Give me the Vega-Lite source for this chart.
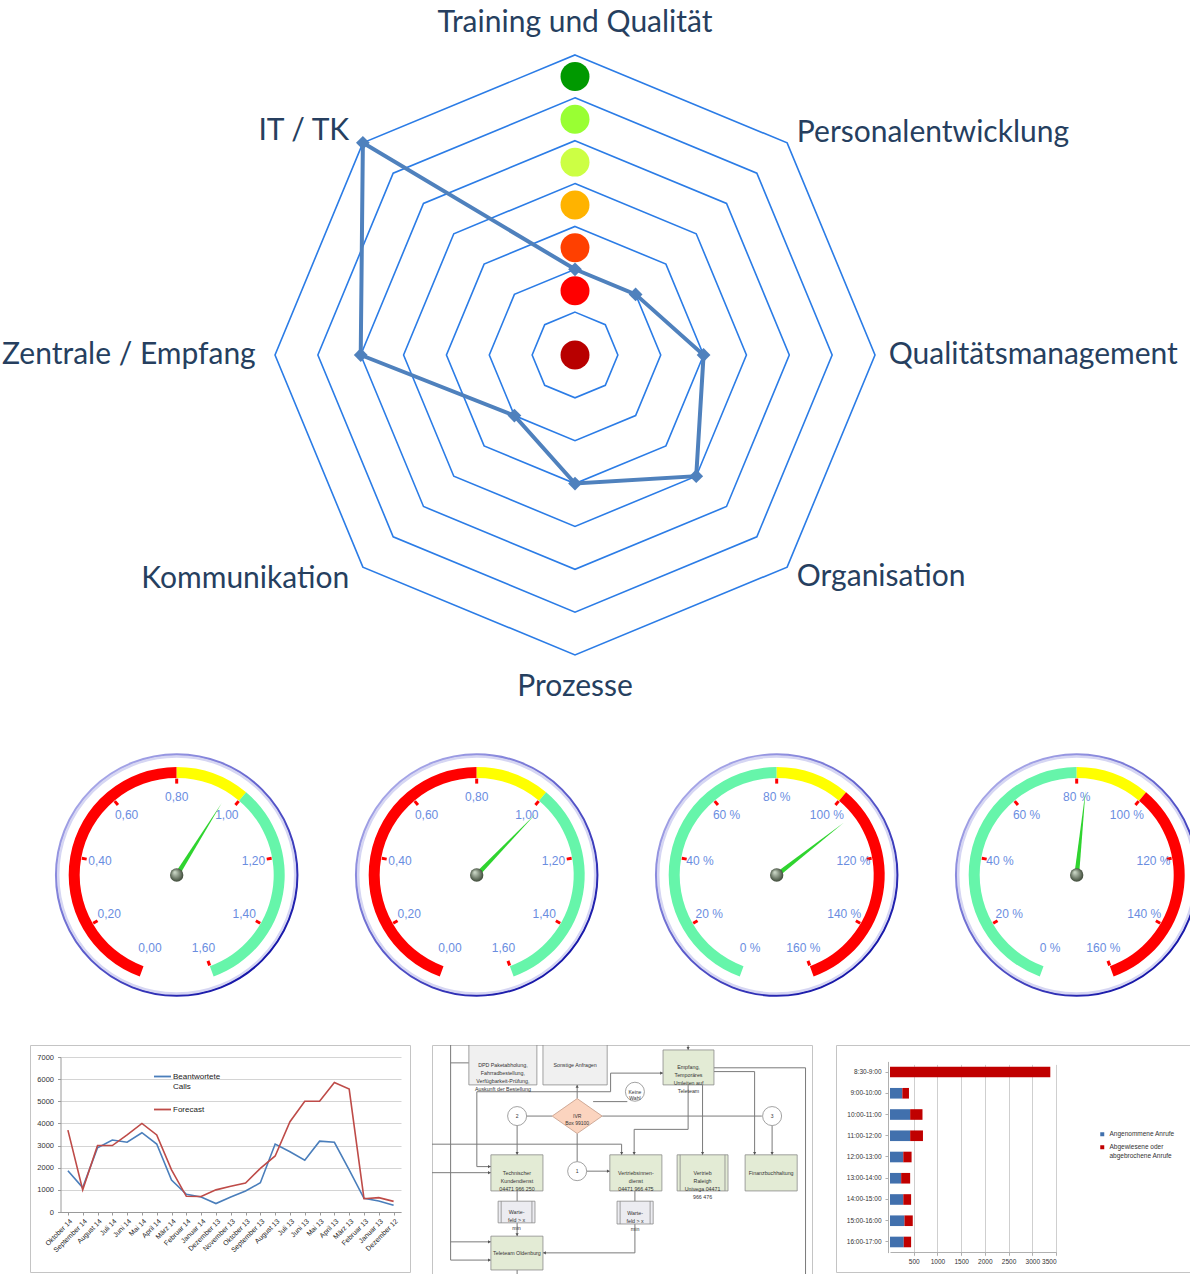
{
"$schema": "https://vega.github.io/schema/vega-lite/v6.json",
"background": "#ffffff",
"padding": 0,
"spacing": 0,
"bounds": "flush",
"resolve": {"scale": {"color": "independent", "fill": "independent", "shape": "independent", "angle": "independent"}, "legend": {"color": "independent", "fill": "independent", "shape": "independent"}},
"config": {"view": {"stroke": null}, "font": "Liberation Sans"},
"datasets": {
"gitter": [
{"i":0,"stufe":[1,2,3,4,5,6,7]},{"i":1,"stufe":[1,2,3,4,5,6,7]},{"i":2,"stufe":[1,2,3,4,5,6,7]},{"i":3,"stufe":[1,2,3,4,5,6,7]},
{"i":4,"stufe":[1,2,3,4,5,6,7]},{"i":5,"stufe":[1,2,3,4,5,6,7]},{"i":6,"stufe":[1,2,3,4,5,6,7]},{"i":7,"stufe":[1,2,3,4,5,6,7]}
],
"radar": [
{"i":0,"achse":"Training und Qualität","wert":2},
{"i":1,"achse":"Personalentwicklung","wert":2},
{"i":2,"achse":"Qualitätsmanagement","wert":3},
{"i":3,"achse":"Organisation","wert":4},
{"i":4,"achse":"Prozesse","wert":3},
{"i":5,"achse":"Kommunikation","wert":2},
{"i":6,"achse":"Zentrale / Empfang","wert":5},
{"i":7,"achse":"IT / TK","wert":7}
],
"ampel": [
{"stufe":"1","pos":0},{"stufe":"2","pos":1.5},{"stufe":"3","pos":2.5},{"stufe":"4","pos":3.5},
{"stufe":"5","pos":4.5},{"stufe":"6","pos":5.5},{"stufe":"7","pos":6.5}
],
"tacho": [
{"g":1,"kind":"band","von":0,"bis":80,"zone":"rot"},{"g":1,"kind":"band","von":80,"bis":100,"zone":"gelb"},{"g":1,"kind":"band","von":100,"bis":160,"zone":"grün"},
{"g":2,"kind":"band","von":0,"bis":80,"zone":"rot"},{"g":2,"kind":"band","von":80,"bis":100,"zone":"gelb"},{"g":2,"kind":"band","von":100,"bis":160,"zone":"grün"},
{"g":3,"kind":"band","von":0,"bis":80,"zone":"grün"},{"g":3,"kind":"band","von":80,"bis":100,"zone":"gelb"},{"g":3,"kind":"band","von":100,"bis":160,"zone":"rot"},
{"g":4,"kind":"band","von":0,"bis":80,"zone":"grün"},{"g":4,"kind":"band","von":80,"bis":100,"zone":"gelb"},{"g":4,"kind":"band","von":100,"bis":160,"zone":"rot"},
{"g":1,"kind":"zeiger","wert":96},{"g":2,"kind":"zeiger","wert":102},{"g":3,"kind":"zeiger","wert":106},{"g":4,"kind":"zeiger","wert":83},
{"g":1,"kind":"skala","v":[0,20,40,60,80,100,120,140,160]},{"g":2,"kind":"skala","v":[0,20,40,60,80,100,120,140,160]},
{"g":3,"kind":"skala","v":[0,20,40,60,80,100,120,140,160]},{"g":4,"kind":"skala","v":[0,20,40,60,80,100,120,140,160]}
],
"anrufe": [
{"monat":"Oktober 14","reihe":"Beantwortete Calls","anzahl":1860},
{"monat":"September 14","reihe":"Beantwortete Calls","anzahl":1100},
{"monat":"August 14","reihe":"Beantwortete Calls","anzahl":2900},
{"monat":"Juli 14","reihe":"Beantwortete Calls","anzahl":3250},
{"monat":"Juni 14","reihe":"Beantwortete Calls","anzahl":3150},
{"monat":"Mai 14","reihe":"Beantwortete Calls","anzahl":3580},
{"monat":"April 14","reihe":"Beantwortete Calls","anzahl":3070},
{"monat":"März 14","reihe":"Beantwortete Calls","anzahl":1440},
{"monat":"Februar 14","reihe":"Beantwortete Calls","anzahl":800},
{"monat":"Januar 14","reihe":"Beantwortete Calls","anzahl":680},
{"monat":"Dezember 13","reihe":"Beantwortete Calls","anzahl":380},
{"monat":"November 13","reihe":"Beantwortete Calls","anzahl":680},
{"monat":"Oktober 13","reihe":"Beantwortete Calls","anzahl":950},
{"monat":"September 13","reihe":"Beantwortete Calls","anzahl":1320},
{"monat":"August 13","reihe":"Beantwortete Calls","anzahl":3070},
{"monat":"Juli 13","reihe":"Beantwortete Calls","anzahl":2720},
{"monat":"Juni 13","reihe":"Beantwortete Calls","anzahl":2340},
{"monat":"Mai 13","reihe":"Beantwortete Calls","anzahl":3200},
{"monat":"April 13","reihe":"Beantwortete Calls","anzahl":3150},
{"monat":"März 13","reihe":"Beantwortete Calls","anzahl":1900},
{"monat":"Februar 13","reihe":"Beantwortete Calls","anzahl":620},
{"monat":"Januar 13","reihe":"Beantwortete Calls","anzahl":500},
{"monat":"Dezember 12","reihe":"Beantwortete Calls","anzahl":300},
{"monat":"Oktober 14","reihe":"Forecast","anzahl":3700},
{"monat":"September 14","reihe":"Forecast","anzahl":1000},
{"monat":"August 14","reihe":"Forecast","anzahl":3000},
{"monat":"Juli 14","reihe":"Forecast","anzahl":3000},
{"monat":"Juni 14","reihe":"Forecast","anzahl":3480},
{"monat":"Mai 14","reihe":"Forecast","anzahl":4000},
{"monat":"April 14","reihe":"Forecast","anzahl":3480},
{"monat":"März 14","reihe":"Forecast","anzahl":1900},
{"monat":"Februar 14","reihe":"Forecast","anzahl":710},
{"monat":"Januar 14","reihe":"Forecast","anzahl":700},
{"monat":"Dezember 13","reihe":"Forecast","anzahl":1000},
{"monat":"November 13","reihe":"Forecast","anzahl":1160},
{"monat":"Oktober 13","reihe":"Forecast","anzahl":1310},
{"monat":"September 13","reihe":"Forecast","anzahl":1970},
{"monat":"August 13","reihe":"Forecast","anzahl":2530},
{"monat":"Juli 13","reihe":"Forecast","anzahl":4080},
{"monat":"Juni 13","reihe":"Forecast","anzahl":5000},
{"monat":"Mai 13","reihe":"Forecast","anzahl":5000},
{"monat":"April 13","reihe":"Forecast","anzahl":5850},
{"monat":"März 13","reihe":"Forecast","anzahl":5550},
{"monat":"Februar 13","reihe":"Forecast","anzahl":600},
{"monat":"Januar 13","reihe":"Forecast","anzahl":650},
{"monat":"Dezember 12","reihe":"Forecast","anzahl":480}
],
"kaesten": [
{"id":"dpd","typ":"info","x1":9.7,"x2":27.6,"y1":0,"y2":10.5,"text":"DPD Paketabholung,\nFahrradbestellung,\nVerfügbarkeit-Prüfung,\nAuskunft der Bestellung"},
{"id":"sonst","typ":"info","x1":29.2,"x2":46.1,"y1":0,"y2":10.5,"text":"Sonstige Anfragen"},
{"id":"tech","typ":"prozess","x1":15.5,"x2":29.2,"y1":28.9,"y2":38.4,"text":"Technischer\nKundendienst\n04471 966 250"},
{"id":"warte1","typ":"warte","x1":17.4,"x2":27.1,"y1":41.1,"y2":46.8,"text":"Warte-\nfeld > x\nmin"},
{"id":"tele","typ":"prozess","x1":15.5,"x2":29.2,"y1":50.3,"y2":59.2,"text":"Teleteam Oldenburg"},
{"id":"vid","typ":"prozess","x1":46.8,"x2":60.5,"y1":28.9,"y2":38.4,"text":"Vertriebsinnen-\ndienst\n04471 966 475"},
{"id":"warte2","typ":"warte","x1":48.7,"x2":58.2,"y1":41.1,"y2":47.1,"text":"Warte-\nfeld > x\nmin"},
{"id":"empf","typ":"prozess","x1":60.8,"x2":74.2,"y1":1.3,"y2":10.5,"text":"Empfang,\nTemporäres\nUmleiten auf\nTeleteam"},
{"id":"raleigh","typ":"unterprozess","x1":64.5,"x2":77.9,"y1":28.9,"y2":38.4,"text":"Vertrieb\nRaleigh\nUnivega 04471\n966 476"},
{"id":"fibu","typ":"prozess","x1":82.4,"x2":96.1,"y1":28.9,"y2":38.4,"text":"Finanzbuchhaltung"}
],
"linien": [
{"x1":4.9,"y1":0,"x2":4.9,"y2":56.6},
{"x1":4.9,"y1":4.7,"x2":9.7,"y2":4.7},
{"x1":4.9,"y1":56.6,"x2":15.5,"y2":56.6},
{"x1":4.9,"y1":51.8,"x2":15.5,"y2":51.8},
{"x1":0,"y1":26.1,"x2":49.9,"y2":26.1},
{"x1":49.9,"y1":26.1,"x2":49.9,"y2":28.9},
{"x1":0,"y1":33.6,"x2":15.5,"y2":33.6},
{"x1":11.8,"y1":12.3,"x2":11.8,"y2":32.0},
{"x1":11.8,"y1":32.0,"x2":15.5,"y2":32.0},
{"x1":11.8,"y1":12.3,"x2":47.0,"y2":12.3},
{"x1":38.2,"y1":14.1,"x2":38.2,"y2":10.5},
{"x1":24.9,"y1":18.7,"x2":31.6,"y2":18.7},
{"x1":44.8,"y1":18.7,"x2":86.8,"y2":18.7},
{"x1":22.4,"y1":21.2,"x2":22.4,"y2":28.9},
{"x1":38.2,"y1":23.3,"x2":38.2,"y2":30.7},
{"x1":40.7,"y1":33.2,"x2":46.8,"y2":33.2},
{"x1":22.4,"y1":38.4,"x2":22.4,"y2":41.1},
{"x1":22.4,"y1":46.8,"x2":22.4,"y2":50.3},
{"x1":29.2,"y1":54.7,"x2":53.4,"y2":54.7},
{"x1":53.4,"y1":47.1,"x2":53.4,"y2":54.7},
{"x1":53.4,"y1":38.4,"x2":53.4,"y2":41.1},
{"x1":42.4,"y1":14.9,"x2":51.4,"y2":14.9},
{"x1":47.0,"y1":7.4,"x2":60.8,"y2":7.4},
{"x1":47.0,"y1":7.4,"x2":47.0,"y2":12.3},
{"x1":67.4,"y1":10.5,"x2":67.4,"y2":22.2},
{"x1":53.2,"y1":22.2,"x2":67.4,"y2":22.2},
{"x1":53.2,"y1":22.2,"x2":53.2,"y2":28.9},
{"x1":71.2,"y1":10.5,"x2":71.2,"y2":28.9},
{"x1":74.2,"y1":7.0,"x2":84.9,"y2":7.0},
{"x1":84.9,"y1":7.0,"x2":84.9,"y2":28.9},
{"x1":89.5,"y1":21.3,"x2":89.5,"y2":28.9},
{"x1":74.2,"y1":6.0,"x2":98.3,"y2":6.0},
{"x1":98.3,"y1":6.0,"x2":98.3,"y2":60.3},
{"x1":67.4,"y1":0,"x2":67.4,"y2":1.3},
{"x1":22.4,"y1":59.2,"x2":22.4,"y2":60.3}
],
"kreise": [
{"form":"kreis","x":22.4,"y":18.7,"text":"2"},
{"form":"kreis","x":38.2,"y":33.2,"text":"1"},
{"form":"kreis","x":53.4,"y":12.3,"text":"Keine\nWahl"},
{"form":"kreis","x":89.5,"y":18.7,"text":"3"},
{"form":"raute","x":38.2,"y":18.7,"text":"IVR\nBox 99100"}
],
"pfeile": [
{"x":15.1,"y":56.6,"richtung":"rechts"},{"x":15.1,"y":51.8,"richtung":"rechts"},{"x":49.9,"y":28.5,"richtung":"unten"},
{"x":15.1,"y":33.6,"richtung":"rechts"},{"x":15.1,"y":32.0,"richtung":"rechts"},{"x":38.2,"y":10.9,"richtung":"oben"},
{"x":22.4,"y":28.5,"richtung":"unten"},{"x":46.4,"y":33.2,"richtung":"rechts"},{"x":22.4,"y":49.9,"richtung":"unten"},
{"x":29.6,"y":54.7,"richtung":"links"},{"x":60.4,"y":7.4,"richtung":"rechts"},{"x":53.2,"y":28.5,"richtung":"unten"},
{"x":71.2,"y":28.5,"richtung":"unten"},{"x":84.9,"y":28.5,"richtung":"unten"},{"x":89.5,"y":28.5,"richtung":"unten"},
{"x":67.4,"y":0.9,"richtung":"unten"}
],
"zeiten": [
{"zeit":"8:30-9:00","art":"Angenommene Anrufe","anzahl":0},
{"zeit":"8:30-9:00","art":"Abgewiesene oder abgebrochene Anrufe","anzahl":3380},
{"zeit":"9:00-10:00","art":"Angenommene Anrufe","anzahl":260},
{"zeit":"9:00-10:00","art":"Abgewiesene oder abgebrochene Anrufe","anzahl":140},
{"zeit":"10:00-11:00","art":"Angenommene Anrufe","anzahl":425},
{"zeit":"10:00-11:00","art":"Abgewiesene oder abgebrochene Anrufe","anzahl":260},
{"zeit":"11:00-12:00","art":"Angenommene Anrufe","anzahl":425},
{"zeit":"11:00-12:00","art":"Abgewiesene oder abgebrochene Anrufe","anzahl":270},
{"zeit":"12:00-13:00","art":"Angenommene Anrufe","anzahl":280},
{"zeit":"12:00-13:00","art":"Abgewiesene oder abgebrochene Anrufe","anzahl":175},
{"zeit":"13:00-14:00","art":"Angenommene Anrufe","anzahl":235},
{"zeit":"13:00-14:00","art":"Abgewiesene oder abgebrochene Anrufe","anzahl":190},
{"zeit":"14:00-15:00","art":"Angenommene Anrufe","anzahl":280},
{"zeit":"14:00-15:00","art":"Abgewiesene oder abgebrochene Anrufe","anzahl":165},
{"zeit":"15:00-16:00","art":"Angenommene Anrufe","anzahl":305},
{"zeit":"15:00-16:00","art":"Abgewiesene oder abgebrochene Anrufe","anzahl":175},
{"zeit":"16:00-17:00","art":"Angenommene Anrufe","anzahl":290},
{"zeit":"16:00-17:00","art":"Abgewiesene oder abgebrochene Anrufe","anzahl":155}
]
},
"vconcat": [
{
"width": 1190, "height": 750,
"layer": [
{
"data": {"name": "gitter"},
"transform": [{"flatten": ["stufe"]},
{"calculate": "datum.stufe * sin(datum.i * PI / 4)", "as": "px"},
{"calculate": "datum.stufe * cos(datum.i * PI / 4)", "as": "py"}],
"mark": {"type": "line", "interpolate": "linear-closed", "color": "#2b7ce6", "strokeWidth": 1.6},
"encoding": {
"x": {"field": "px", "type": "quantitative", "scale": {"domain": [-13.417, 14.35], "nice": false, "zero": false}, "axis": null},
"y": {"field": "py", "type": "quantitative", "scale": {"domain": [-9.217, 8.283], "nice": false, "zero": false}, "axis": null},
"detail": {"field": "stufe", "type": "nominal"},
"order": {"field": "i", "type": "quantitative"}
}
},
{
"data": {"name": "ampel"},
"mark": {"type": "point", "shape": "circle", "filled": true, "size": 840, "opacity": 1},
"encoding": {
"x": {"datum": 0, "type": "quantitative"},
"y": {"field": "pos", "type": "quantitative"},
"color": {"field": "stufe", "type": "nominal", "scale": {"domain": ["1","2","3","4","5","6","7"], "range": ["#b80000","#ff0000","#ff4000","#ffb300","#ccff44","#99ff33","#009900"]}, "legend": null}
}
},
{
"data": {"name": "radar"},
"transform": [{"calculate": "datum.wert * sin(datum.i * PI / 4)", "as": "px"},
{"calculate": "datum.wert * cos(datum.i * PI / 4)", "as": "py"}],
"mark": {"type": "line", "interpolate": "linear-closed", "color": "#4f81bd", "strokeWidth": 4},
"encoding": {
"x": {"field": "px", "type": "quantitative"},
"y": {"field": "py", "type": "quantitative"},
"order": {"field": "i", "type": "quantitative"}
}
},
{
"data": {"name": "radar"},
"transform": [{"calculate": "datum.wert * sin(datum.i * PI / 4)", "as": "px"},
{"calculate": "datum.wert * cos(datum.i * PI / 4)", "as": "py"}],
"mark": {"type": "point", "shape": "diamond", "filled": true, "size": 190, "color": "#4f81bd", "opacity": 1},
"encoding": {
"x": {"field": "px", "type": "quantitative"},
"y": {"field": "py", "type": "quantitative"}
}
},
{
"data": {"name": "radar"},
"transform": [{"filter": "datum.i == 0 || datum.i == 4"},
{"calculate": "7.75 * sin(datum.i * PI / 4)", "as": "px"},
{"calculate": "7.75 * cos(datum.i * PI / 4)", "as": "py"}],
"mark": {"type": "text", "font": "Lato", "fontSize": 30, "color": "#263f5f", "align": "center", "baseline": "middle"},
"encoding": {
"x": {"field": "px", "type": "quantitative"},
"y": {"field": "py", "type": "quantitative"},
"text": {"field": "achse", "type": "nominal"}
}
},
{
"data": {"name": "radar"},
"transform": [{"filter": "datum.i >= 1 && datum.i <= 3"},
{"calculate": "7.32 * sin(datum.i * PI / 4)", "as": "px"},
{"calculate": "7.32 * cos(datum.i * PI / 4)", "as": "py"}],
"mark": {"type": "text", "font": "Lato", "fontSize": 30, "color": "#263f5f", "align": "left", "baseline": "middle"},
"encoding": {
"x": {"field": "px", "type": "quantitative"},
"y": {"field": "py", "type": "quantitative"},
"text": {"field": "achse", "type": "nominal"}
}
},
{
"data": {"name": "radar"},
"transform": [{"filter": "datum.i >= 5"},
{"calculate": "7.45 * sin(datum.i * PI / 4)", "as": "px"},
{"calculate": "7.4 * cos(datum.i * PI / 4)", "as": "py"}],
"mark": {"type": "text", "font": "Lato", "fontSize": 30, "color": "#263f5f", "align": "right", "baseline": "middle"},
"encoding": {
"x": {"field": "px", "type": "quantitative"},
"y": {"field": "py", "type": "quantitative"},
"text": {"field": "achse", "type": "nominal"}
}
}
]
},
{
"width": 1190, "height": 295,
"data": {"name": "tacho"},
"layer": [
{
"transform": [{"filter": "datum.kind == 'zeiger'"}],
"mark": {"type": "point", "shape": "circle", "size": 58081, "filled": true, "fill": "#ffffff", "stroke": {"gradient": "linear", "x1": 0.15, "y1": 0.1, "x2": 0.85, "y2": 0.9, "stops": [{"offset": 0, "color": "#a9a9e8"}, {"offset": 0.5, "color": "#5a5acb"}, {"offset": 1, "color": "#1212a6"}]}, "strokeWidth": 2.5, "opacity": 1, "clip": true},
"encoding": {
"x": {"field": "g", "type": "quantitative", "scale": {"domain": [0.411, 4.3777], "nice": false, "zero": false}, "axis": null},
"y": {"datum": 0, "type": "quantitative", "scale": {"domain": [-0.56667, 0.41667], "nice": false, "zero": false}, "axis": null}
}
},
{
"transform": [{"filter": "datum.kind == 'zeiger'"}],
"mark": {"type": "point", "shape": "circle", "size": 56169, "filled": false, "stroke": "#d6d6f3", "strokeWidth": 2.5, "opacity": 1, "clip": true},
"encoding": {
"x": {"field": "g", "type": "quantitative"},
"y": {"datum": 0, "type": "quantitative"}
}
},
{
"transform": [{"filter": "datum.kind == 'band'"}],
"mark": {"type": "arc", "radius": 108, "radius2": 97, "clip": true},
"encoding": {
"x": {"field": "g", "type": "quantitative", "stack": null},
"y": {"datum": 0, "type": "quantitative", "stack": null},
"theta": {"field": "von", "type": "quantitative", "stack": null, "scale": {"domain": [0, 160], "range": [-2.7925, 2.7925]}},
"theta2": {"field": "bis"},
"color": {"field": "zone", "type": "nominal", "scale": {"domain": ["rot", "gelb", "grün"], "range": ["#ff0000", "#ffff00", "#66f5aa"]}, "legend": null}
}
},
{
"transform": [{"filter": "datum.kind == 'skala'"}, {"flatten": ["v"]}, {"filter": "datum.v > 0"},
{"calculate": "(datum.v - 80) * PI / 90", "as": "ang"},
{"calculate": "datum.g + 0.313 * sin(datum.ang)", "as": "tx"},
{"calculate": "0.313 * cos(datum.ang)", "as": "ty"}],
"mark": {"type": "point", "shape": "M -0.6 -1 L 0.6 -1 L 0.6 1 L -0.6 1 Z", "size": 25, "filled": true, "color": "#ff0000", "opacity": 1},
"encoding": {
"x": {"field": "tx", "type": "quantitative"},
"y": {"field": "ty", "type": "quantitative"},
"angle": {"field": "v", "type": "quantitative", "scale": {"domain": [0, 160], "range": [-160, 160]}, "legend": null}
}
},
{
"transform": [{"filter": "datum.kind == 'skala'"}, {"flatten": ["v"]},
{"calculate": "(datum.v - 80) * PI / 90", "as": "ang"},
{"calculate": "datum.g + 0.26 * sin(datum.ang)", "as": "lx"},
{"calculate": "0.26 * cos(datum.ang)", "as": "ly"},
{"calculate": "datum.g <= 2 ? replace(format(datum.v / 100, '.2f'), '.', ',') : datum.v + ' %'", "as": "txt"}],
"mark": {"type": "text", "fontSize": 12, "color": "#6a8ddf", "align": "center", "baseline": "middle"},
"encoding": {
"x": {"field": "lx", "type": "quantitative"},
"y": {"field": "ly", "type": "quantitative"},
"text": {"field": "txt", "type": "nominal"}
}
},
{
"transform": [{"filter": "datum.kind == 'zeiger'"}],
"mark": {"type": "point", "shape": "M -0.03 0.06 L 0 -1 L 0.03 0.06 Z", "size": 28900, "filled": true, "color": "#2fd42f", "opacity": 1},
"encoding": {
"x": {"field": "g", "type": "quantitative"},
"y": {"datum": 0, "type": "quantitative"},
"angle": {"field": "wert", "type": "quantitative", "scale": {"domain": [0, 160], "range": [-160, 160]}, "legend": null}
}
},
{
"transform": [{"filter": "datum.kind == 'zeiger'"}],
"mark": {"type": "point", "shape": "circle", "size": 180, "filled": true, "opacity": 1, "fill": {"gradient": "radial", "x1": 0.35, "y1": 0.3, "r1": 0.05, "x2": 0.5, "y2": 0.5, "r2": 0.55, "stops": [{"offset": 0, "color": "#c7d3c2"}, {"offset": 1, "color": "#34402f"}]}},
"encoding": {
"x": {"field": "g", "type": "quantitative"},
"y": {"datum": 0, "type": "quantitative"}
}
}
]
},
{
"spacing": 0,
"bounds": "flush",
"resolve": {"scale": {"color": "independent", "fill": "independent", "shape": "independent"}, "legend": {"color": "independent", "fill": "independent", "shape": "independent"}},
"hconcat": [
{"width": 30, "height": 227, "data": {"values": [{"leer": 1}]}, "mark": {"type": "text", "text": ""}, "encoding": {}},
{
"width": 380, "height": 227,
"view": {"stroke": "#c4c4c4", "fill": "#ffffff"},
"data": {"name": "anrufe"},
"mark": {"type": "line", "strokeWidth": 1.6},
"encoding": {
"x": {"field": "monat", "type": "ordinal", "sort": null, "scale": {"type": "point", "range": [30.5, 371], "padding": 0.5},
"axis": {"title": null, "offset": -60, "labelAngle": -45, "labelFontSize": 7, "labelColor": "#222222", "domainColor": "#9a9a9a", "tickColor": "#9a9a9a", "tickSize": 3, "labelPadding": 2, "grid": false}},
"y": {"field": "anzahl", "type": "quantitative", "scale": {"domain": [0, 7000], "range": [167, 12], "nice": false},
"axis": {"title": null, "offset": -30.5, "values": [0,1000,2000,3000,4000,5000,6000,7000], "format": "d", "labelFontSize": 7.5, "labelColor": "#333333", "domainColor": "#9a9a9a", "tickColor": "#9a9a9a", "tickSize": 3, "labelPadding": 4, "grid": true, "gridColor": "#d4d4d4"}},
"color": {"field": "reihe", "type": "nominal", "scale": {"domain": ["Beantwortete Calls", "Forecast"], "range": ["#4a7ebb", "#be4b48"]},
"legend": {"orient": "none", "legendX": 123, "legendY": 22, "title": null, "symbolType": "stroke", "symbolSize": 290, "symbolStrokeWidth": 1.8, "labelFontSize": 8, "labelColor": "#222222", "rowPadding": 9, "labelOffset": 1,
"labelExpr": "datum.label == 'Beantwortete Calls' ? ['Beantwortete', 'Calls'] : datum.label"}}
}
},
{"width": 22, "height": 227, "data": {"values": [{"leer": 1}]}, "mark": {"type": "text", "text": ""}, "encoding": {}},
{
"width": 380, "height": 229,
"view": {"stroke": "#c4c4c4", "fill": "#ffffff"},
"layer": [
{
"data": {"name": "linien"},
"mark": {"type": "rule", "color": "#7a7a7a", "strokeWidth": 1, "clip": true},
"encoding": {
"x": {"field": "x1", "type": "quantitative", "scale": {"domain": [0, 100], "nice": false, "zero": false}, "axis": null},
"y": {"field": "y1", "type": "quantitative", "scale": {"domain": [0, 60.26], "reverse": true, "nice": false, "zero": false}, "axis": null},
"x2": {"field": "x2"},
"y2": {"field": "y2"}
}
},
{
"data": {"name": "kaesten"},
"mark": {"type": "rect", "stroke": "#8a8a8a", "strokeWidth": 0.8, "clip": true},
"encoding": {
"x": {"field": "x1", "type": "quantitative"},
"x2": {"field": "x2"},
"y": {"field": "y1", "type": "quantitative"},
"y2": {"field": "y2"},
"fill": {"field": "typ", "type": "nominal", "scale": {"domain": ["info", "prozess", "warte", "unterprozess"], "range": ["#f0f0f0", "#e3ebd5", "#ececf1", "#e3ebd5"]}, "legend": null}
}
},
{
"data": {"name": "kaesten"},
"transform": [{"filter": "datum.typ == 'warte' || datum.typ == 'unterprozess'"},
{"calculate": "datum.x1 + 0.8", "as": "b1"}, {"calculate": "datum.x2 - 0.8", "as": "b2"},
{"fold": ["b1", "b2"], "as": ["seite", "bx"]}],
"mark": {"type": "rule", "color": "#8a8a8a", "strokeWidth": 0.8},
"encoding": {
"x": {"field": "bx", "type": "quantitative"},
"y": {"field": "y1", "type": "quantitative"},
"y2": {"field": "y2"}
}
},
{
"data": {"name": "kreise"},
"transform": [{"filter": "datum.form == 'kreis'"}],
"mark": {"type": "point", "shape": "circle", "size": 361, "filled": true, "fill": "#ffffff", "stroke": "#8a8a8a", "strokeWidth": 0.8, "opacity": 1},
"encoding": {
"x": {"field": "x", "type": "quantitative"},
"y": {"field": "y", "type": "quantitative"}
}
},
{
"data": {"name": "kreise"},
"transform": [{"filter": "datum.form == 'raute'"}],
"mark": {"type": "point", "shape": "M -1 0 L 0 -0.7 L 1 0 L 0 0.7 Z", "size": 2500, "filled": true, "fill": "#fbd4bf", "stroke": "#c49a86", "strokeWidth": 0.8, "opacity": 1},
"encoding": {
"x": {"field": "x", "type": "quantitative"},
"y": {"field": "y", "type": "quantitative"}
}
},
{
"data": {"name": "pfeile"},
"mark": {"type": "point", "filled": true, "size": 10, "color": "#555555", "opacity": 1},
"encoding": {
"x": {"field": "x", "type": "quantitative"},
"y": {"field": "y", "type": "quantitative"},
"shape": {"field": "richtung", "type": "nominal", "scale": {"domain": ["unten", "oben", "rechts", "links"], "range": ["triangle-down", "triangle-up", "triangle-right", "triangle-left"]}, "legend": null}
}
},
{
"data": {"name": "kaesten"},
"transform": [{"calculate": "(datum.x1 + datum.x2) / 2", "as": "cx"}, {"calculate": "(datum.y1 + datum.y2) / 2", "as": "cy"}],
"mark": {"type": "text", "fontSize": 5.3, "lineHeight": 8, "lineBreak": "\n", "color": "#333333", "align": "center", "baseline": "middle", "clip": true},
"encoding": {
"x": {"field": "cx", "type": "quantitative"},
"y": {"field": "cy", "type": "quantitative"},
"text": {"field": "text", "type": "nominal"}
}
},
{
"data": {"name": "kreise"},
"mark": {"type": "text", "fontSize": 5, "lineHeight": 6.5, "lineBreak": "\n", "color": "#333333", "align": "center", "baseline": "middle"},
"encoding": {
"x": {"field": "x", "type": "quantitative"},
"y": {"field": "y", "type": "quantitative"},
"text": {"field": "text", "type": "nominal"}
}
}
]
},
{"width": 24, "height": 227, "data": {"values": [{"leer": 1}]}, "mark": {"type": "text", "text": ""}, "encoding": {}},
{
"width": 354, "height": 227,
"view": {"stroke": "#c4c4c4", "fill": "#ffffff"},
"data": {"name": "zeiten"},
"transform": [{"calculate": "datum.art == 'Angenommene Anrufe' ? 0 : 1", "as": "rang"}],
"mark": {"type": "bar"},
"encoding": {
"y": {"field": "zeit", "type": "nominal", "sort": null, "scale": {"type": "band", "range": [16.4, 207.6], "paddingInner": 0.5, "paddingOuter": 0.25},
"axis": {"orient": "left", "offset": -52, "title": null, "labelFontSize": 6.5, "labelColor": "#333333", "domainColor": "#b0b0b0", "tickColor": "#b0b0b0", "tickSize": 3, "labelPadding": 4}},
"x": {"field": "anzahl", "type": "quantitative", "stack": "zero", "scale": {"domain": [0, 3500], "range": [54, 220], "nice": false},
"axis": {"orient": "bottom", "offset": -20, "values": [500,1000,1500,2000,2500,3000,3500], "format": "d", "labelOverlap": false, "title": null, "labelFontSize": 6.5, "labelColor": "#333333", "grid": true, "gridColor": "#cfcfcf", "domainColor": "#b0b0b0", "tickColor": "#b0b0b0", "tickSize": 3, "labelPadding": 3}},
"color": {"field": "art", "type": "nominal", "sort": ["Angenommene Anrufe", "Abgewiesene oder abgebrochene Anrufe"],
"scale": {"domain": ["Angenommene Anrufe", "Abgewiesene oder abgebrochene Anrufe"], "range": ["#4170ad", "#c00000"]},
"legend": {"orient": "none", "legendX": 263, "legendY": 86, "title": null, "symbolType": "square", "symbolSize": 16, "labelFontSize": 6.5, "labelColor": "#333333", "rowPadding": 6, "labelLimit": 200,
"labelExpr": "datum.label == 'Abgewiesene oder abgebrochene Anrufe' ? ['Abgewiesene oder', 'abgebrochene Anrufe'] : datum.label"}},
"order": {"field": "rang", "type": "quantitative"}
}
}
]
}
]
}
